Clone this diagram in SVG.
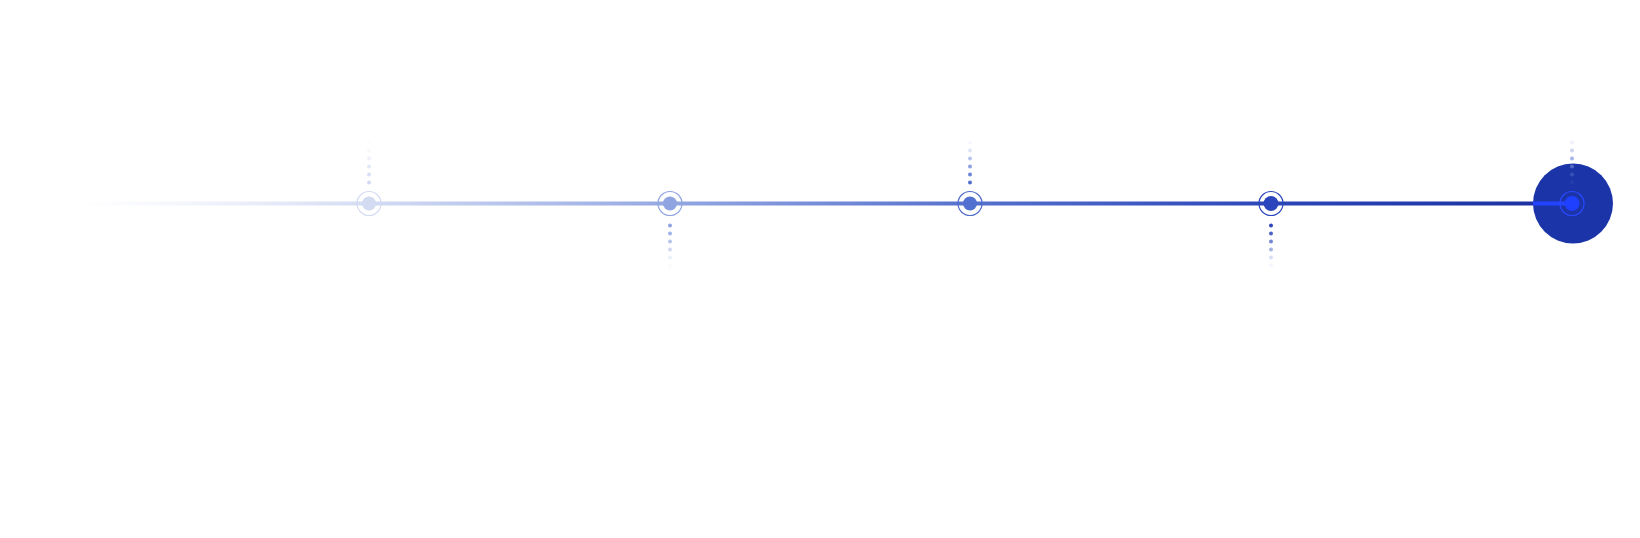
<svg xmlns="http://www.w3.org/2000/svg" width="1640" height="538" viewBox="0 0 1640 538">
  <defs>
    <linearGradient id="lineGrad" gradientUnits="userSpaceOnUse" x1="75" y1="0" x2="1572" y2="0">
      <stop offset="0" stop-color="#e6eaf8" stop-opacity="0"/>
      <stop offset="0.197" stop-color="#d3dbf3"/>
      <stop offset="0.398" stop-color="#94a7e2"/>
      <stop offset="0.598" stop-color="#5671cd"/>
      <stop offset="0.799" stop-color="#2c46b9"/>
      <stop offset="1" stop-color="#1a2f9f"/>
    </linearGradient>
    <style>
      .ring { fill: none; stroke-width: 1.2; }
    </style>
  </defs>
  <rect x="0" y="0" width="1640" height="538" fill="#ffffff"/>

  <g id="connectors">
    <rect x="75" y="201.5" width="1497" height="4" fill="url(#lineGrad)"/>
  </g>

  <g id="node-1">
    <g fill="#d3dbf3">
      <circle cx="369" cy="182.5" r="2"/>
      <circle cx="369" cy="174.5" r="2" opacity="0.85"/>
      <circle cx="369" cy="166.5" r="2" opacity="0.65"/>
      <circle cx="369" cy="158.5" r="2" opacity="0.42"/>
      <circle cx="369" cy="150.5" r="2" opacity="0.18"/>
      <circle cx="369" cy="142.5" r="2" opacity="0.05"/>
    </g>
    <circle cx="369" cy="203.5" r="12" class="ring" stroke="#d3dbf3"/>
    <circle cx="369" cy="203.5" r="7" fill="#d3dbf3"/>
  </g>

  <g id="node-2">
    <g fill="#90a4e1">
      <circle cx="670" cy="225.5" r="2"/>
      <circle cx="670" cy="233.5" r="2" opacity="0.85"/>
      <circle cx="670" cy="241.5" r="2" opacity="0.65"/>
      <circle cx="670" cy="249.5" r="2" opacity="0.42"/>
      <circle cx="670" cy="257.5" r="2" opacity="0.18"/>
      <circle cx="670" cy="265.5" r="2" opacity="0.05"/>
    </g>
    <circle cx="670" cy="203.5" r="12" class="ring" stroke="#90a4e1"/>
    <circle cx="670" cy="203.5" r="7" fill="#90a4e1"/>
  </g>

  <g id="node-3">
    <g fill="#5270cf">
      <circle cx="970" cy="182.5" r="2"/>
      <circle cx="970" cy="174.5" r="2" opacity="0.85"/>
      <circle cx="970" cy="166.5" r="2" opacity="0.65"/>
      <circle cx="970" cy="158.5" r="2" opacity="0.42"/>
      <circle cx="970" cy="150.5" r="2" opacity="0.18"/>
      <circle cx="970" cy="142.5" r="2" opacity="0.05"/>
    </g>
    <circle cx="970" cy="203.5" r="12" class="ring" stroke="#4f6bcb"/>
    <circle cx="970" cy="203.5" r="7" fill="#5270cf"/>
  </g>

  <g id="node-4">
    <g fill="#2b46bc">
      <circle cx="1271" cy="225.5" r="2"/>
      <circle cx="1271" cy="233.5" r="2" opacity="0.85"/>
      <circle cx="1271" cy="241.5" r="2" opacity="0.65"/>
      <circle cx="1271" cy="249.5" r="2" opacity="0.42"/>
      <circle cx="1271" cy="257.5" r="2" opacity="0.18"/>
      <circle cx="1271" cy="265.5" r="2" opacity="0.05"/>
    </g>
    <circle cx="1271" cy="203.5" r="12" class="ring" stroke="#2b46bc"/>
    <circle cx="1271" cy="203.5" r="7.5" fill="#2b46bc"/>
  </g>

  <g id="node-5">
    <circle cx="1573" cy="203.5" r="40" fill="#1b35a8"/>
    <rect x="1533" y="201.5" width="40" height="4" fill="#2244ff"/>
    <g fill="#7f93dc">
      <circle cx="1572" cy="182.5" r="2" opacity="0.1"/>
      <circle cx="1572" cy="174.5" r="2" opacity="0.3"/>
      <circle cx="1572" cy="166.5" r="2" opacity="0.55"/>
      <circle cx="1572" cy="158.5" r="2" opacity="0.7"/>
      <circle cx="1572" cy="150.5" r="2" opacity="0.4"/>
      <circle cx="1572" cy="142.5" r="2" opacity="0.12"/>
    </g>
    <circle cx="1572" cy="203.5" r="12" class="ring" stroke="#2a48ff"/>
    <circle cx="1572" cy="203.5" r="7.5" fill="#1f40ff"/>
  </g>
</svg>
